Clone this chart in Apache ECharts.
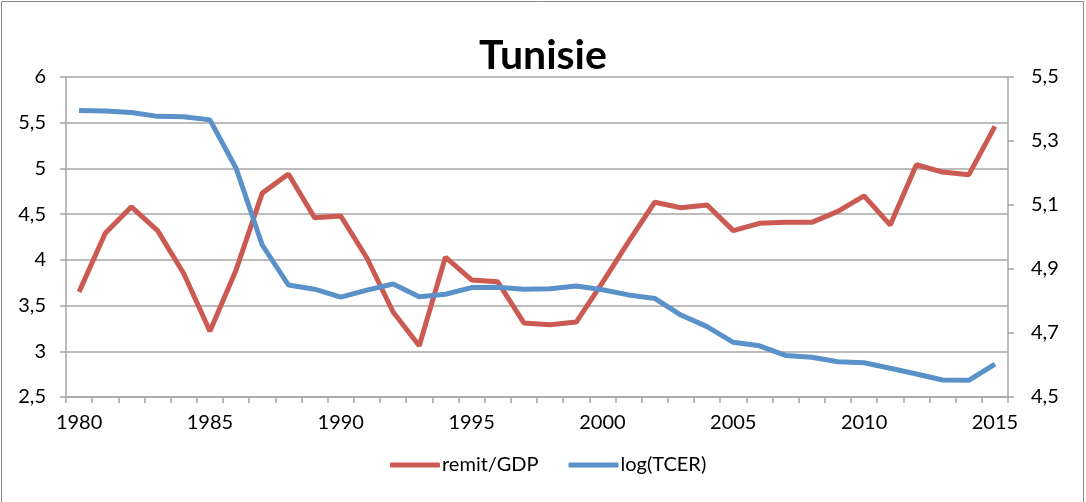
<!DOCTYPE html>
<html>
<head>
<meta charset="utf-8">
<script src="https://cdn.jsdelivr.net/npm/echarts@6/dist/echarts.min.js"></script>
<style>
  html, body { margin: 0; padding: 0; background: #fff; }
  #main { width: 1086px; height: 502px; }
</style>
</head>
<body>
<div id="main"></div>
<script>
// data
const years = [];
for (let y = 1980; y <= 2015; y++) years.push(String(y));

const remitGdp = [
  3.65, 4.29, 4.58, 4.32, 3.85, 3.22, 3.89, 4.73, 4.94, 4.46,
  4.48, 4.02, 3.43, 3.06, 4.03, 3.78, 3.76, 3.31, 3.29, 3.32,
  3.75, 4.20, 4.63, 4.57, 4.60, 4.32, 4.40, 4.41, 4.41, 4.53,
  4.70, 4.38, 5.04, 4.96, 4.93, 5.46
];

const logTcer = [
  5.395, 5.394, 5.389, 5.377, 5.376, 5.366, 5.215, 4.975, 4.850, 4.837,
  4.812, 4.834, 4.853, 4.813, 4.821, 4.842, 4.843, 4.837, 4.838, 4.847,
  4.835, 4.819, 4.808, 4.756, 4.720, 4.671, 4.660, 4.630, 4.624, 4.610,
  4.607, 4.590, 4.572, 4.553, 4.552, 4.603
];

const seriesNames = ['remit/GDP', 'log(TCER)'];

const font = 'Lato, "Open Sans", sans-serif';
const axisGray = '#a6a6a6';

function comma(v) {
  return String(parseFloat(v.toFixed(1))).replace('.', ',');
}

var chart = echarts.init(document.getElementById('main'));
chart.setOption({
  animation: false,
  color: ['#CB5A52', '#5A91C9'],
  title: {
    text: 'Tunisie',
    left: 'center',
    top: 30,
    textStyle: { fontFamily: font, fontSize: 41, fontWeight: 'bold', color: '#000' }
  },
  graphic: [{
    type: 'rect',
    shape: { x: 1.5, y: 1.5, width: 1082, height: 510 },
    style: { fill: 'none', stroke: '#8c8c8c', lineWidth: 1 },
    silent: true
  }],
  legend: {
    data: seriesNames,
    bottom: 22,
    left: 385,
    itemWidth: 50,
    itemHeight: 5,
    itemGap: 30,
    icon: 'roundRect',
    textStyle: { fontFamily: font, fontSize: 20, color: '#000', padding: [0, 0, 0, -3] }
  },
  grid: { left: 66, right: 78, top: 77, bottom: 105 },
  xAxis: {
    type: 'category',
    data: years,
    boundaryGap: true,
    axisLine: { lineStyle: { color: axisGray, width: 1.5 } },
    axisTick: { show: true, interval: 0, length: 6, lineStyle: { color: axisGray, width: 1.5 } },
    axisLabel: { interval: 4, fontFamily: font, fontSize: 20, color: '#000', margin: 16 },
    splitLine: { show: false }
  },
  yAxis: [{
    type: 'value',
    min: 2.5,
    max: 6,
    interval: 0.5,
    axisLine: { show: true, lineStyle: { color: axisGray, width: 1.5 } },
    axisTick: { show: true, length: 6, lineStyle: { color: axisGray, width: 1.5 } },
    axisLabel: { fontFamily: font, fontSize: 20, color: '#000', margin: 20, formatter: comma },
    splitLine: { show: true, lineStyle: { color: axisGray, width: 1.5 } }
  }, {
    type: 'value',
    min: 4.5,
    max: 5.5,
    interval: 0.2,
    position: 'right',
    axisLine: { show: true, lineStyle: { color: axisGray, width: 1.5 } },
    axisTick: { show: true, length: 6, lineStyle: { color: axisGray, width: 1.5 } },
    axisLabel: { fontFamily: font, fontSize: 20, color: '#000', margin: 23, formatter: comma },
    splitLine: { show: false }
  }],
  series: [{
    name: seriesNames[0],
    type: 'line',
    yAxisIndex: 0,
    data: remitGdp,
    showSymbol: false,
    lineStyle: { width: 5 }
  }, {
    name: seriesNames[1],
    type: 'line',
    yAxisIndex: 1,
    data: logTcer,
    showSymbol: false,
    lineStyle: { width: 5 }
  }]
});
</script>
</body>
</html>
